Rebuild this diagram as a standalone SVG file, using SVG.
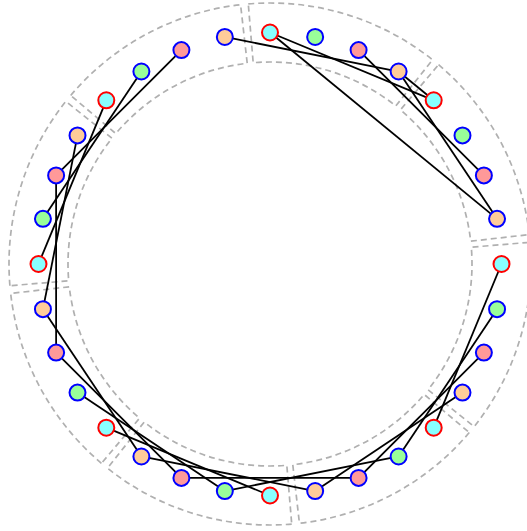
<svg xmlns="http://www.w3.org/2000/svg" xmlns:xlink="http://www.w3.org/1999/xlink" width="527" height="531" viewBox="0 0 527 531">
<style>
.sec{fill:none;stroke:#b0b0b0;stroke-width:1.7;stroke-dasharray:6,4}
.e{stroke:#000;stroke-width:1.8;fill:none}
.n{stroke-width:2}
.cy{fill:#88ffff;stroke:#ff0000}
.gr{fill:#99ff99;stroke:#0000ff}
.pk{fill:#ff9999;stroke:#0000ff}
.or{fill:#ffcc99;stroke:#0000ff}
</style>
<defs>
<path id="sec" d="M -96.29,-242.59 A 261 261 0 0 1 96.29,-242.59 L 74.52,-187.75 A 202 202 0 0 0 -74.52,-187.75 Z"/>
</defs>
<g id="sectors" class="sec">
<use xlink:href="#sec" href="#sec" transform="translate(270,264) rotate(16.875)"/>
<use xlink:href="#sec" href="#sec" transform="translate(270,264) rotate(61.875)"/>
<use xlink:href="#sec" href="#sec" transform="translate(270,264) rotate(106.875)"/>
<use xlink:href="#sec" href="#sec" transform="translate(270,264) rotate(151.875)"/>
<use xlink:href="#sec" href="#sec" transform="translate(270,264) rotate(196.875)"/>
<use xlink:href="#sec" href="#sec" transform="translate(270,264) rotate(241.875)"/>
<use xlink:href="#sec" href="#sec" transform="translate(270,264) rotate(286.875)"/>
<use xlink:href="#sec" href="#sec" transform="translate(270,264) rotate(331.875)"/>
</g>
<g id="edges" class="e">
<line x1="224.84" y1="36.95" x2="398.61" y2="71.51"/>
<line x1="270" y1="32.5" x2="433.70" y2="100.30"/>
<line x1="358.59" y1="50.12" x2="483.88" y2="175.41"/>
<line x1="398.61" y1="71.51" x2="497.05" y2="218.84"/>
<line x1="270" y1="32.5" x2="497.05" y2="218.84"/>
<line x1="398.61" y1="71.51" x2="433.70" y2="100.30"/>
<line x1="501.5" y1="264" x2="433.70" y2="427.70"/>
<line x1="497.05" y1="309.16" x2="398.61" y2="456.49"/>
<line x1="483.88" y1="352.59" x2="358.59" y2="477.88"/>
<line x1="462.49" y1="392.61" x2="315.16" y2="491.05"/>
<line x1="398.61" y1="456.49" x2="224.84" y2="491.05"/>
<line x1="358.59" y1="477.88" x2="181.41" y2="477.88"/>
<line x1="315.16" y1="491.05" x2="141.39" y2="456.49"/>
<line x1="270" y1="495.5" x2="106.30" y2="427.70"/>
<line x1="224.84" y1="491.05" x2="77.51" y2="392.61"/>
<line x1="181.41" y1="477.88" x2="56.12" y2="352.59"/>
<line x1="141.39" y1="456.49" x2="42.95" y2="309.16"/>
<line x1="56.12" y1="352.59" x2="56.12" y2="175.41"/>
<line x1="42.95" y1="309.16" x2="77.51" y2="135.39"/>
<line x1="38.5" y1="264" x2="106.30" y2="100.30"/>
<line x1="42.95" y1="218.84" x2="141.39" y2="71.51"/>
<line x1="56.12" y1="175.41" x2="181.41" y2="50.12"/>
</g>
<g id="n0"><circle class="n cy" cx="270" cy="32.5" r="8"/></g>
<g id="n1"><circle class="n gr" cx="315.16" cy="36.95" r="8"/></g>
<g id="n2"><circle class="n pk" cx="358.59" cy="50.12" r="8"/></g>
<g id="n3"><circle class="n or" cx="398.61" cy="71.51" r="8"/></g>
<g id="n4"><circle class="n cy" cx="433.70" cy="100.30" r="8"/></g>
<g id="n5"><circle class="n gr" cx="462.49" cy="135.39" r="8"/></g>
<g id="n6"><circle class="n pk" cx="483.88" cy="175.41" r="8"/></g>
<g id="n7"><circle class="n or" cx="497.05" cy="218.84" r="8"/></g>
<g id="n8"><circle class="n cy" cx="501.5" cy="264" r="8"/></g>
<g id="n9"><circle class="n gr" cx="497.05" cy="309.16" r="8"/></g>
<g id="n10"><circle class="n pk" cx="483.88" cy="352.59" r="8"/></g>
<g id="n11"><circle class="n or" cx="462.49" cy="392.61" r="8"/></g>
<g id="n12"><circle class="n cy" cx="433.70" cy="427.70" r="8"/></g>
<g id="n13"><circle class="n gr" cx="398.61" cy="456.49" r="8"/></g>
<g id="n14"><circle class="n pk" cx="358.59" cy="477.88" r="8"/></g>
<g id="n15"><circle class="n or" cx="315.16" cy="491.05" r="8"/></g>
<g id="n16"><circle class="n cy" cx="270" cy="495.5" r="8"/></g>
<g id="n17"><circle class="n gr" cx="224.84" cy="491.05" r="8"/></g>
<g id="n18"><circle class="n pk" cx="181.41" cy="477.88" r="8"/></g>
<g id="n19"><circle class="n or" cx="141.39" cy="456.49" r="8"/></g>
<g id="n20"><circle class="n cy" cx="106.30" cy="427.70" r="8"/></g>
<g id="n21"><circle class="n gr" cx="77.51" cy="392.61" r="8"/></g>
<g id="n22"><circle class="n pk" cx="56.12" cy="352.59" r="8"/></g>
<g id="n23"><circle class="n or" cx="42.95" cy="309.16" r="8"/></g>
<g id="n24"><circle class="n cy" cx="38.5" cy="264" r="8"/></g>
<g id="n25"><circle class="n gr" cx="42.95" cy="218.84" r="8"/></g>
<g id="n26"><circle class="n pk" cx="56.12" cy="175.41" r="8"/></g>
<g id="n27"><circle class="n or" cx="77.51" cy="135.39" r="8"/></g>
<g id="n28"><circle class="n cy" cx="106.30" cy="100.30" r="8"/></g>
<g id="n29"><circle class="n gr" cx="141.39" cy="71.51" r="8"/></g>
<g id="n30"><circle class="n pk" cx="181.41" cy="50.12" r="8"/></g>
<g id="n31"><circle class="n or" cx="224.84" cy="36.95" r="8"/></g>
</svg>
